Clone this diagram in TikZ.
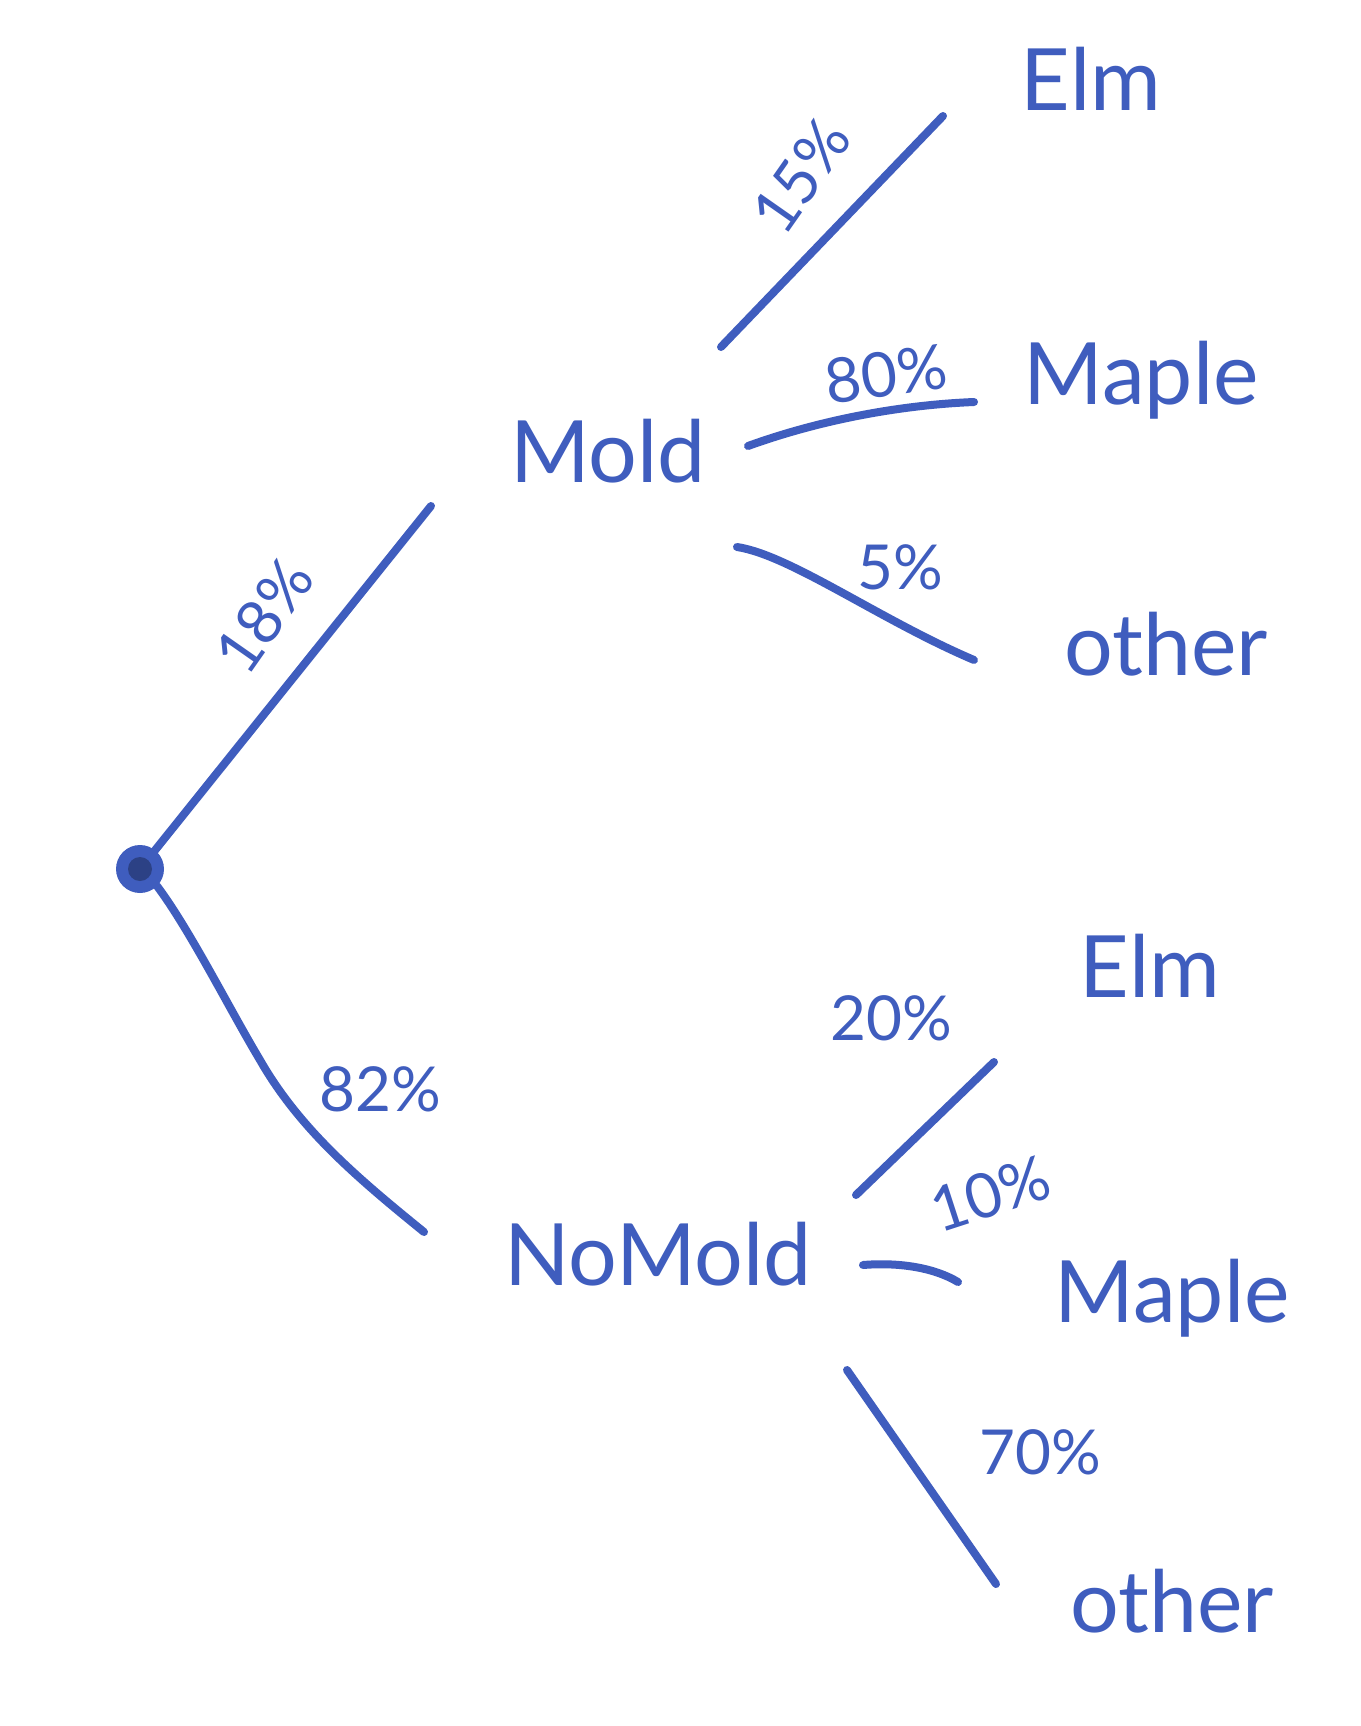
\documentclass[tikz,border=0pt]{standalone}
\usepackage{fontspec}
\setmainfont{Lato}
\definecolor{ink}{HTML}{3F5DBE}
\begin{document}
\begin{tikzpicture}[x=1pt,y=-1pt,
  ink line/.style={draw=ink,line width=8pt,line cap=round},
  word/.style={text=ink,font=\fontsize{86}{90}\selectfont,inner sep=0pt},
  pct/.style={text=ink,font=\fontsize{62}{66}\selectfont,inner sep=0pt}]
\useasboundingbox[fill=white] (0,0) rectangle (1360,1726);
% root
\node[circle,fill=ink,minimum size=48pt,inner sep=0pt] (root) at (140,869) {};
\fill[ink!70!black] (root.center) circle (12pt);
% text nodes
\node[word] (mold) at (608,451) {Mold};
\node[word] (nomold) at (658,1254) {NoMold};
\node[word] (elmA) at (1091,79) {Elm};
\node[word] (mapleA) at (1141,380) {Maple};
\node[word] (otherA) at (1166,644) {other};
\node[word] (elmB) at (1150,966) {Elm};
\node[word] (mapleB) at (1172,1298) {Maple};
\node[word] (otherB) at (1172,1601) {other};
% percentages
\node[pct,rotate=55] (p15) at (801,176) {15\%};
\node[pct,rotate=8] (p80) at (886,374) {80\%};
\node[pct] (p5) at (900,567) {5\%};
\node[pct,rotate=55] (p18) at (264,616) {18\%};
\node[pct] (p82) at (380,1089) {82\%};
\node[pct] (p20) at (891,1018) {20\%};
\node[pct,rotate=18] (p10) at (990,1194) {10\%};
\node[pct] (p70) at (1040,1452) {70\%};
% connector end points
\coordinate (a1) at (431,506);
\coordinate (b1) at (424,1232);
\coordinate (c0) at (721,347);  \coordinate (c1) at (943,116);
\coordinate (d0) at (748,446);  \coordinate (d1) at (974,402);
\coordinate (e0) at (737,547);  \coordinate (e1) at (974,660);
\coordinate (f0) at (856,1195); \coordinate (f1) at (994,1062);
\coordinate (g0) at (863,1265); \coordinate (g1) at (958,1282);
\coordinate (h0) at (847,1370); \coordinate (h1) at (996,1584);
% connectors
\draw[ink line] (root) -- (a1);
\draw[ink line] (root.south east) .. controls (190,930) and (230,1010) .. (260,1060)
   .. controls (300,1130) and (360,1180) .. (b1);
\draw[ink line] (c0) -- (c1);
\draw[ink line] (d0) .. controls (820,420) and (900,405) .. (d1);
\draw[ink line] (e0) .. controls (790,555) and (880,620) .. (e1);
\draw[ink line] (f0) -- (f1);
\draw[ink line] (g0) .. controls (900,1262) and (935,1268) .. (g1);
\draw[ink line] (h0) -- (h1);
\end{tikzpicture}
\end{document}
